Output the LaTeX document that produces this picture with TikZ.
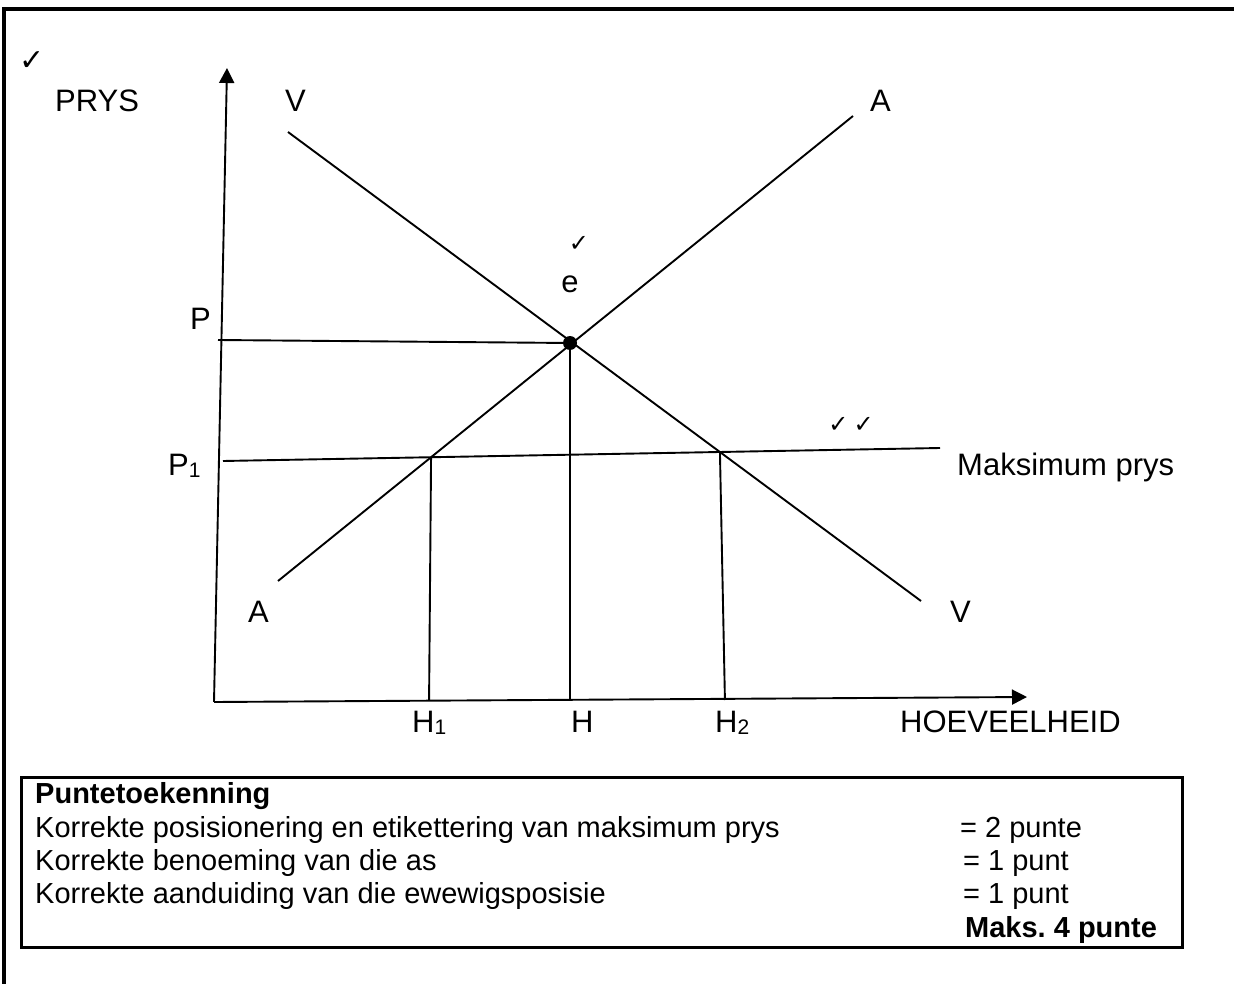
\documentclass[tikz,border=0pt]{standalone}
\usepackage{fontspec}
\setmainfont{Liberation Sans}
\newfontfamily\symfont{DejaVu Sans}
\usetikzlibrary{arrows.meta,calc}
\newcommand{\subdig}[1]{{\fontsize{21}{21}\selectfont\raisebox{-2pt}{#1}}}
\frenchspacing
\begin{document}
\begin{tikzpicture}[x=1pt,y=-1pt,
  curve/.style={line width=1.9pt},
  axisline/.style={line width=1.9pt,-{Triangle[length=15pt,width=15pt]}},
  lbl/.style={anchor=base west,inner sep=0pt,font=\fontsize{31}{31}\selectfont},
  boxtxt/.style={anchor=base west,inner sep=0pt,font=\fontsize{29}{29}\selectfont},
  chk/.style={inner sep=0pt,font=\symfont\fontsize{24}{24}\selectfont}]
\useasboundingbox (0,0) rectangle (1234,984);
% outer frame
\fill (2,7) rectangle (1234,11);
\fill (2,7) rectangle (6,984);
% axes
\coordinate (O) at (214,702);
\coordinate (Ytop) at (227,68);
\coordinate (Xend) at (1027,697);
\coordinate (Xb) at (0,700);
\draw[axisline] (O) -- (Ytop);
\draw[axisline] (O) -- (Xend);
% curves
\coordinate (V1) at (288,132);
\coordinate (V2) at (921,601);
\coordinate (A1) at (278,581);
\coordinate (A2) at (853,116);
\coordinate (M1) at (223,461);
\coordinate (M2) at (940,448);
\coordinate (Pl) at (218,340);
\draw[curve] (V1) -- (V2);
\draw[curve] (A1) -- (A2);
\draw[curve] (M1) -- (M2);
\coordinate (H1top) at (intersection of A1--A2 and M1--M2);
\coordinate (H2top) at (intersection of V1--V2 and M1--M2);
\coordinate (E) at (570,343);
\draw[curve] (Pl) -- (E);
\draw[curve] (E) -- (E |- Xb);
\draw[curve] (H1top) -- ([xshift=-2pt]H1top |- Xb);
\draw[curve] (H2top) -- ([xshift=5pt]H2top |- Xb);
\node[circle,fill,inner sep=0pt,minimum size=14pt] (e) at (E) {};
% labels
\node[chk,font=\symfont\fontsize{30}{30}\selectfont] (c0) at (32,61) {✓};
\node[lbl] (prys) at (55,112) {PRYS};
\node[lbl] (vt) at (285,112) {V};
\node[lbl] (at) at (870,112) {A};
\node[chk] (c1) at (579,244) {✓};
\node[lbl,anchor=base] (el) at (570,293) {e};
\node[lbl] (pl) at (190,330) {P};
\node[chk] (c2) at (851,425) {✓\hspace{5pt}✓};
\node[lbl] (p1) at (168,475) {P\subdig{1}};
\node[lbl] (mp) at (957,475) {Maksimum prys};
\node[lbl] (ab) at (248,622) {A};
\node[lbl] (vb) at (950,622) {V};
\node[lbl] (h1) at (412,732) {H\subdig{1}};
\node[lbl] (h) at (571,732) {H};
\node[lbl] (h2) at (715,732) {H\subdig{2}};
\node[lbl] (hv) at (900,732) {HOEVEELHEID};
% marking box
\node[draw,line width=2.5pt,inner sep=0pt,minimum width=1161pt,minimum height=170pt,anchor=north west] (box) at (20,776) {};
\node[boxtxt,font=\bfseries\fontsize{29}{29}\selectfont] (t0) at (35,803) {Puntetoekenning};
\node[boxtxt] (t1) at (35,837) {Korrekte posisionering en etikettering van maksimum prys};
\node[boxtxt] (t2) at (35,870) {Korrekte benoeming van die as};
\node[boxtxt] (t3) at (35,903) {Korrekte aanduiding van die ewewigsposisie};
\node[boxtxt] (r1) at (960,837) {= 2 punte};
\node[boxtxt] (r2) at (963,870) {= 1 punt};
\node[boxtxt] (r3) at (963,903) {= 1 punt};
\node[boxtxt,font=\bfseries\fontsize{29}{29}\selectfont] (r4) at (965,937) {Maks. 4 punte};
\end{tikzpicture}
\end{document}
